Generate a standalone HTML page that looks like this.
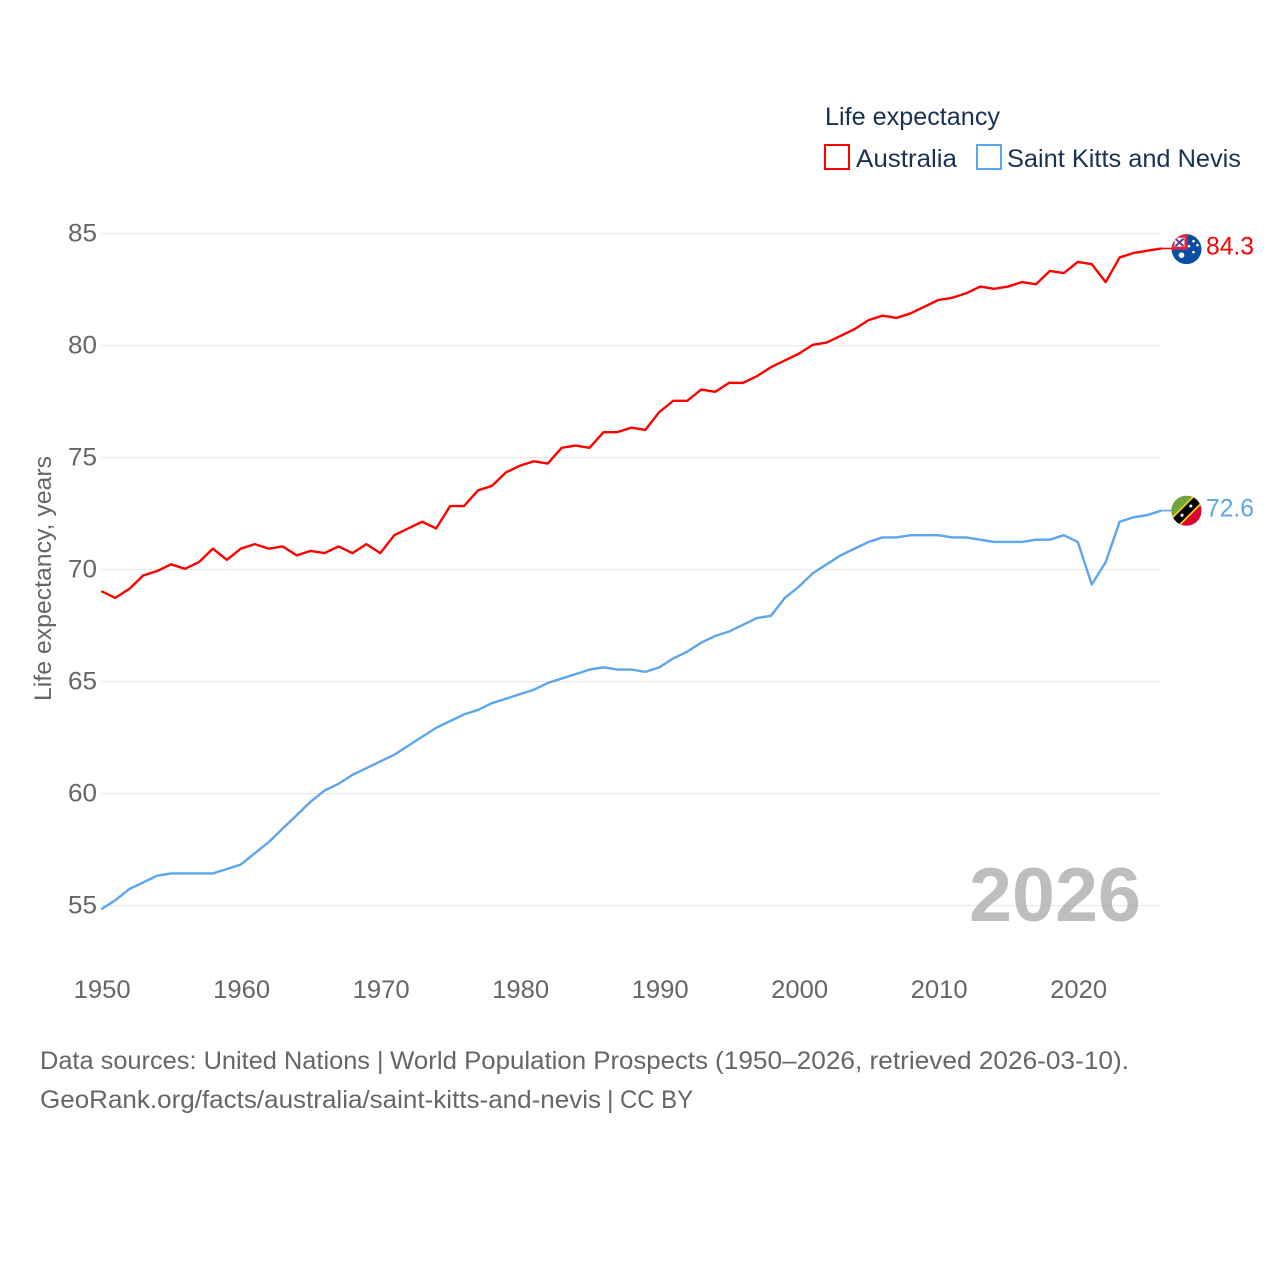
<!DOCTYPE html>
<html lang="en">
<head>
<meta charset="utf-8">
<title>Life expectancy: Australia and Saint Kitts and Nevis</title>
<style>
html,body{margin:0;padding:0;background:#fff;width:1280px;height:1280px;overflow:hidden}
svg{display:block}
text{font-family:"Liberation Sans",sans-serif}
</style>
</head>
<body>
<svg id="chart" width="1280" height="1280" viewBox="0 0 1280 1280" xmlns="http://www.w3.org/2000/svg">
  <defs>
    <clipPath id="clip-au"><circle cx="0" cy="0" r="15"/></clipPath>
    <clipPath id="clip-kn"><circle cx="0" cy="0" r="15"/></clipPath>
  </defs>
  <g id="grid"></g>
  <g id="y-ticks"></g>
  <g id="x-ticks"></g>
  <text transform="translate(51,701) rotate(-90)" font-size="24" fill="#666" textLength="245" lengthAdjust="spacingAndGlyphs">Life expectancy, years</text>
  <text id="year-label" x="969" y="921" font-size="76" font-weight="700" fill="#a3a3a3" fill-opacity="0.7" textLength="172" lengthAdjust="spacingAndGlyphs">2026</text>
  <g id="series" transform="translate(-0.2,-0.7)"></g>

  <g id="flag-au">
    <g clip-path="url(#clip-au)">
      <rect x="-15" y="-15" width="30" height="30" fill="#0b4ea2"/>
      <rect x="-15" y="-15" width="16" height="15.5" fill="#e0263c"/>
      <rect x="-12" y="-11.5" width="10" height="9" fill="#f3f3f8"/>
      <path d="M-11,-10.5 L-3,-3 M-11,-3 L-3,-10.5" stroke="#2a4c9c" stroke-width="2"/>
      <path d="M-11,-10.5 L-4,-4" stroke="#e0263c" stroke-width="1"/>
      <circle cx="-5" cy="6" r="2.8" fill="#fff"/>
      <circle cx="7" cy="-8" r="1.3" fill="#fff"/>
      <circle cx="2.5" cy="-3" r="1.3" fill="#fff"/>
      <circle cx="11" cy="-4" r="1.3" fill="#fff"/>
      <circle cx="7" cy="3" r="1.3" fill="#fff"/>
    </g>
  </g>
  <g id="flag-kn">
    <g clip-path="url(#clip-kn)">
      <rect x="-15" y="-15" width="30" height="30" fill="#d9052e"/>
      <path d="M-15,-15 H15 L-15,15 Z" fill="#6ea63c"/>
      <path d="M-18.5,10 L10,-18.5 L18.5,-10 L-10,18.5 Z" fill="#f7d116"/>
      <path d="M-18,12 L12,-18 L18,-12 L-12,18 Z" fill="#000"/>
      <circle cx="-4.5" cy="4.5" r="1.6" fill="#fff"/>
      <circle cx="4.3" cy="-4.7" r="1.6" fill="#fff"/>
    </g>
  </g>
  <text id="value-au" x="1206" font-size="25" fill="#ff0000" textLength="48" lengthAdjust="spacingAndGlyphs"></text>
  <text id="value-kn" x="1206" font-size="25" fill="#5da5ec" textLength="48" lengthAdjust="spacingAndGlyphs"></text>

  <g>
    <text x="825" y="125" font-size="25" fill="#1a3151" textLength="175" lengthAdjust="spacingAndGlyphs">Life expectancy</text>
    <g>
      <rect x="825" y="145" width="24" height="24" fill="none" stroke="#ff0000" stroke-width="2"/>
      <text x="856" y="167" font-size="25" fill="#1a3151" textLength="101" lengthAdjust="spacingAndGlyphs">Australia</text>
    </g>
    <g>
      <rect x="977" y="145" width="24" height="24" fill="none" stroke="#5da5ec" stroke-width="2"/>
      <text x="1007" y="167" font-size="25" fill="#1a3151" textLength="234" lengthAdjust="spacingAndGlyphs">Saint Kitts and Nevis</text>
    </g>
  </g>

  <g>
    <g font-size="25" fill="#666">
      <text x="40" y="1069" textLength="330" lengthAdjust="spacingAndGlyphs">Data sources: United Nations</text>
      <text x="377" y="1069">|</text>
      <text x="390" y="1069" textLength="318" lengthAdjust="spacingAndGlyphs">World Population Prospects</text>
      <text x="715" y="1069" textLength="414" lengthAdjust="spacingAndGlyphs">(1950–2026, retrieved 2026-03-10).</text>
    </g>
    <g font-size="25" fill="#666">
      <text x="40" y="1108" textLength="561" lengthAdjust="spacingAndGlyphs">GeoRank.org/facts/australia/saint-kitts-and-nevis</text>
      <text x="607" y="1108">|</text>
      <text x="620" y="1108" textLength="73" lengthAdjust="spacingAndGlyphs">CC BY</text>
    </g>
  </g>
</svg>
<script>
var startYear = 1950;
var yTickValues = [55, 60, 65, 70, 75, 80, 85];
var xTickValues = [1950, 1960, 1970, 1980, 1990, 2000, 2010, 2020];
var australia = [69.0,68.7,69.1,69.7,69.9,70.2,70.0,70.3,70.9,70.4,70.9,71.1,70.9,71.0,70.6,70.8,70.7,71.0,70.7,71.1,70.7,71.5,71.8,72.1,71.8,72.8,72.8,73.5,73.7,74.3,74.6,74.8,74.7,75.4,75.5,75.4,76.1,76.1,76.3,76.2,77.0,77.5,77.5,78.0,77.9,78.3,78.3,78.6,79.0,79.3,79.6,80.0,80.1,80.4,80.7,81.1,81.3,81.2,81.4,81.7,82.0,82.1,82.3,82.6,82.5,82.6,82.8,82.7,83.3,83.2,83.7,83.6,82.8,83.9,84.1,84.2,84.3];
var saintKitts = [54.8,55.2,55.7,56.0,56.3,56.4,56.4,56.4,56.4,56.6,56.8,57.3,57.8,58.4,59.0,59.6,60.1,60.4,60.8,61.1,61.4,61.7,62.1,62.5,62.9,63.2,63.5,63.7,64.0,64.2,64.4,64.6,64.9,65.1,65.3,65.5,65.6,65.5,65.5,65.4,65.6,66.0,66.3,66.7,67.0,67.2,67.5,67.8,67.9,68.7,69.2,69.8,70.2,70.6,70.9,71.2,71.4,71.4,71.5,71.5,71.5,71.4,71.4,71.3,71.2,71.2,71.2,71.3,71.3,71.5,71.2,69.3,70.3,72.1,72.3,72.4,72.6];

var SVG_NS = 'http://www.w3.org/2000/svg';
function xScale(year) { return 101.5 + (year - 1950) * 13.95; }
function yScale(value) { return 905.5 - (value - 55) * 22.4; }

var gridGroup = document.getElementById('grid');
var yTickGroup = document.getElementById('y-ticks');
var xTickGroup = document.getElementById('x-ticks');
var seriesGroup = document.getElementById('series');

yTickValues.forEach(function (v) {
  var line = document.createElementNS(SVG_NS, 'line');
  
  
  line.setAttribute('x1', 101);
  line.setAttribute('x2', 1161);
  line.setAttribute('y1', yScale(v));
  line.setAttribute('y2', yScale(v));
  line.setAttribute('stroke', '#e8e8e8');
  line.setAttribute('stroke-width', '1');
  gridGroup.appendChild(line);

  var label = document.createElementNS(SVG_NS, 'text');
  
  
  label.setAttribute('x', 97);
  label.setAttribute('y', yScale(v) + 8);
  label.setAttribute('text-anchor', 'end');
  label.setAttribute('font-size', '25');
  label.setAttribute('fill', '#666');
  label.setAttribute('textLength', '29');
  label.setAttribute('lengthAdjust', 'spacingAndGlyphs');
  label.textContent = v;
  yTickGroup.appendChild(label);
});

xTickValues.forEach(function (y) {
  var label = document.createElementNS(SVG_NS, 'text');
  
  
  label.setAttribute('x', xScale(y) + 0.7);
  label.setAttribute('y', 998);
  label.setAttribute('text-anchor', 'middle');
  label.setAttribute('font-size', '25');
  label.setAttribute('fill', '#666');
  label.setAttribute('textLength', '57');
  label.setAttribute('lengthAdjust', 'spacingAndGlyphs');
  label.textContent = y;
  xTickGroup.appendChild(label);
});

function linePoints(values) {
  return values.map(function (v, i) {
    return xScale(startYear + i).toFixed(2) + ',' + yScale(v).toFixed(2);
  }).join(' ');
}

var auLine = document.createElementNS(SVG_NS, 'polyline');


auLine.setAttribute('points', linePoints(australia));
auLine.setAttribute('fill', 'none');
auLine.setAttribute('stroke', '#ff0000');
auLine.setAttribute('stroke-width', '2.4');
auLine.setAttribute('stroke-linejoin', 'round');
seriesGroup.appendChild(auLine);

var knLine = document.createElementNS(SVG_NS, 'polyline');


knLine.setAttribute('points', linePoints(saintKitts));
knLine.setAttribute('fill', 'none');
knLine.setAttribute('stroke', '#5da5ec');
knLine.setAttribute('stroke-width', '2.4');
knLine.setAttribute('stroke-linejoin', 'round');
seriesGroup.appendChild(knLine);

function lastOf(values) { return values[values.length - 1]; }
var endX = xScale(startYear + australia.length - 1);

var auConnector = document.createElementNS(SVG_NS, 'line');


auConnector.setAttribute('x1', endX);
auConnector.setAttribute('x2', endX + 12);
auConnector.setAttribute('y1', yScale(lastOf(australia)));
auConnector.setAttribute('y2', yScale(lastOf(australia)));
auConnector.setAttribute('stroke', '#ff0000');
auConnector.setAttribute('stroke-width', '1.6');
seriesGroup.appendChild(auConnector);

var knConnector = document.createElementNS(SVG_NS, 'line');


knConnector.setAttribute('x1', endX);
knConnector.setAttribute('x2', endX + 12);
knConnector.setAttribute('y1', yScale(lastOf(saintKitts)));
knConnector.setAttribute('y2', yScale(lastOf(saintKitts)));
knConnector.setAttribute('stroke', '#5da5ec');
knConnector.setAttribute('stroke-width', '1.6');
seriesGroup.appendChild(knConnector);

document.getElementById('flag-au').setAttribute('transform', 'translate(1186.5,' + yScale(lastOf(australia)) + ')');
document.getElementById('flag-kn').setAttribute('transform', 'translate(1186.5,' + (yScale(lastOf(saintKitts)) - 0.5) + ')');

var auValue = document.getElementById('value-au');
auValue.setAttribute('y', yScale(lastOf(australia)) + 5.5);
auValue.textContent = lastOf(australia).toFixed(1);

var knValue = document.getElementById('value-kn');
knValue.setAttribute('y', yScale(lastOf(saintKitts)) + 5);
knValue.textContent = lastOf(saintKitts).toFixed(1);
</script>
</body>
</html>
